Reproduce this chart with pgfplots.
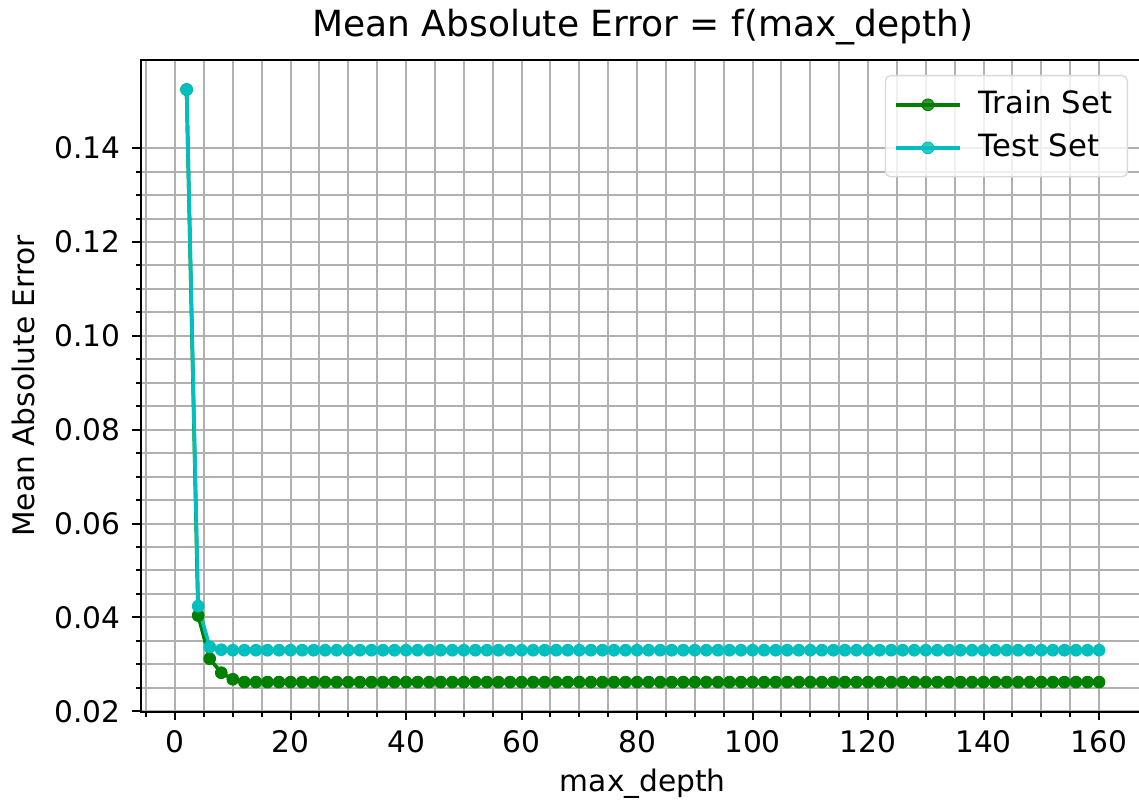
\documentclass[border=0pt]{standalone}
\usepackage{fontspec}
\setmainfont{DejaVu Sans}
\usepackage{pgfplots}
\pgfplotsset{compat=1.18}
\definecolor{mplgreen}{RGB}{0,128,0}
\definecolor{mplcyan}{RGB}{0,191,191}
\definecolor{gridgray}{RGB}{176,176,176}
\begin{document}
\begin{tikzpicture}
\begin{axis}[
    name=ax,
    scale only axis,
    width=301.1pt, height=195.5pt,
    xmin=-5.9, xmax=167.9,
    ymin=0.0199, ymax=0.1588,
    xtick distance=20,
    ytick={0.02,0.04,0.06,0.08,0.10,0.12,0.14},
    minor x tick num=3,
    minor y tick num=3,
    scaled y ticks=false,
    yticklabel style={/pgf/number format/.cd, fixed, fixed zerofill, precision=2},
    /pgf/number format/assume math mode=true,
    tick label style={font=\fontsize{8.9}{10.5}\selectfont},
    xticklabel style={yshift=0.5pt},
    label style={font=\fontsize{8.9}{10.5}\selectfont},
    xlabel style={yshift=2pt},
    ylabel style={yshift=-1pt},
    title style={font=\fontsize{10.8}{13}\selectfont, yshift=-5pt},
    title={Mean Absolute Error = f(max\_depth)},
    xlabel={max\_depth},
    ylabel={Mean Absolute Error},
    axis line style={black, line width=0.6pt},
    tick align=outside,
    xtick pos=bottom, ytick pos=left,
    major tick length=2.6pt,
    minor tick length=1.5pt,
    every tick/.style={black, line width=0.6pt},
    grid=both,
    major grid style={gridgray, line width=0.6pt},
    minor grid style={gridgray, line width=0.6pt},
    legend cell align=left,
    legend style={
        at={(1,1)}, anchor=north east, xshift=-5pt, yshift=-4.5pt,
        font=\fontsize{9.2}{11}\selectfont,
        draw=black!15, fill=white, fill opacity=0.8, text opacity=1,
        rounded corners=1.5pt, inner sep=2.5pt, row sep=0.5pt,
        /tikz/every odd column/.append style={column sep=3pt},
    },
    legend image code/.code={
        \draw[#1, mark=none] (0cm,0cm) -- (0.68cm,0cm);
        \draw[#1, only marks] plot coordinates {(0.34cm,0cm)};
    },
]
\addplot[mplgreen, line width=1.1pt, mark=*, mark size=1.75pt, mark options={solid, line width=0.3pt, fill=mplgreen, draw=mplgreen}] coordinates {
(2,0.1525) (4,0.0404) (6,0.0312) (8,0.0282) (10,0.0268) (12,0.0262) (14,0.0262) (16,0.0262) (18,0.0262) (20,0.0262)
(22,0.0262) (24,0.0262) (26,0.0262) (28,0.0262) (30,0.0262) (32,0.0262) (34,0.0262) (36,0.0262) (38,0.0262) (40,0.0262)
(42,0.0262) (44,0.0262) (46,0.0262) (48,0.0262) (50,0.0262) (52,0.0262) (54,0.0262) (56,0.0262) (58,0.0262) (60,0.0262)
(62,0.0262) (64,0.0262) (66,0.0262) (68,0.0262) (70,0.0262) (72,0.0262) (74,0.0262) (76,0.0262) (78,0.0262) (80,0.0262)
(82,0.0262) (84,0.0262) (86,0.0262) (88,0.0262) (90,0.0262) (92,0.0262) (94,0.0262) (96,0.0262) (98,0.0262) (100,0.0262)
(102,0.0262) (104,0.0262) (106,0.0262) (108,0.0262) (110,0.0262) (112,0.0262) (114,0.0262) (116,0.0262) (118,0.0262) (120,0.0262)
(122,0.0262) (124,0.0262) (126,0.0262) (128,0.0262) (130,0.0262) (132,0.0262) (134,0.0262) (136,0.0262) (138,0.0262) (140,0.0262)
(142,0.0262) (144,0.0262) (146,0.0262) (148,0.0262) (150,0.0262) (152,0.0262) (154,0.0262) (156,0.0262) (158,0.0262) (160,0.0262)
};
\addlegendentry{Train Set}
\addplot[mplcyan, line width=1.1pt, mark=*, mark size=1.75pt, mark options={solid, line width=0.3pt, fill=mplcyan, draw=mplcyan}] coordinates {
(2,0.1525) (4,0.0424) (6,0.0337) (8,0.0331) (10,0.0330) (12,0.0330) (14,0.0330) (16,0.0330) (18,0.0330) (20,0.0330)
(22,0.0330) (24,0.0330) (26,0.0330) (28,0.0330) (30,0.0330) (32,0.0330) (34,0.0330) (36,0.0330) (38,0.0330) (40,0.0330)
(42,0.0330) (44,0.0330) (46,0.0330) (48,0.0330) (50,0.0330) (52,0.0330) (54,0.0330) (56,0.0330) (58,0.0330) (60,0.0330)
(62,0.0330) (64,0.0330) (66,0.0330) (68,0.0330) (70,0.0330) (72,0.0330) (74,0.0330) (76,0.0330) (78,0.0330) (80,0.0330)
(82,0.0330) (84,0.0330) (86,0.0330) (88,0.0330) (90,0.0330) (92,0.0330) (94,0.0330) (96,0.0330) (98,0.0330) (100,0.0330)
(102,0.0330) (104,0.0330) (106,0.0330) (108,0.0330) (110,0.0330) (112,0.0330) (114,0.0330) (116,0.0330) (118,0.0330) (120,0.0330)
(122,0.0330) (124,0.0330) (126,0.0330) (128,0.0330) (130,0.0330) (132,0.0330) (134,0.0330) (136,0.0330) (138,0.0330) (140,0.0330)
(142,0.0330) (144,0.0330) (146,0.0330) (148,0.0330) (150,0.0330) (152,0.0330) (154,0.0330) (156,0.0330) (158,0.0330) (160,0.0330)
};
\addlegendentry{Test Set}
\end{axis}
% the reference is cut just left of the right spine
\pgfresetboundingbox
\path ([shift={(-42.3pt,-27.4pt)}]ax.south west) rectangle ([shift={(299.4pt,18pt)}]ax.north west);
\end{tikzpicture}
\end{document}
